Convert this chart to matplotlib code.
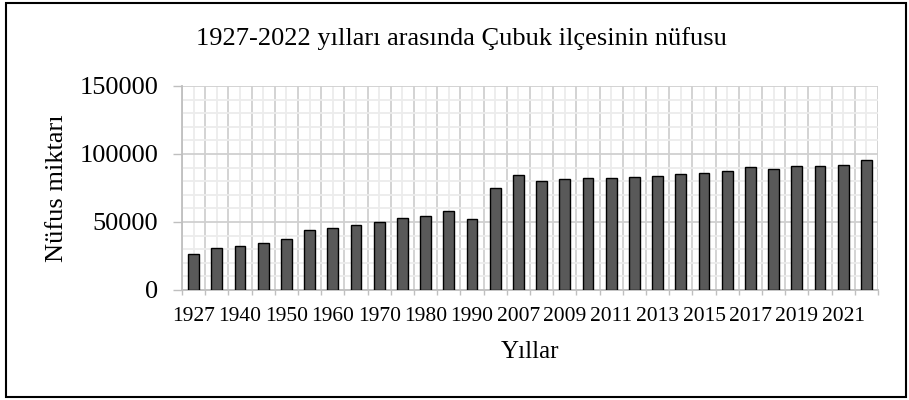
import numpy as np
import matplotlib
matplotlib.use("Agg")
import matplotlib.pyplot as plt
from matplotlib.patches import Rectangle
from matplotlib.ticker import MultipleLocator, FixedLocator

plt.rcParams['font.family'] = ['Liberation Serif', 'DejaVu Serif']

# census / address-based population of Cubuk
years = ['1927', '1935', '1940', '1945', '1950', '1955', '1960', '1965',
         '1970', '1975', '1980', '1985', '1990', '2000', '2007', '2008',
         '2009', '2010', '2011', '2012', '2013', '2014', '2015', '2016',
         '2017', '2018', '2019', '2020', '2021', '2022']
population = [26200, 31100, 32600, 34600, 37700, 44100, 45300, 47800,
              49800, 53200, 54600, 58100, 52200, 75200, 84300, 80400,
              81600, 82100, 82400, 82800, 84100, 85000, 86300, 87800,
              90200, 89200, 90900, 91400, 91900, 95600]

title = '1927-2022 yılları arasında Çubuk ilçesinin nüfusu'
x_title = 'Yıllar'
y_title = 'Nüfus miktarı'

fig = plt.figure(figsize=(9.09, 4.0), dpi=100)
ax = fig.add_axes([182 / 909, 1 - 290 / 400, 696 / 909, 204 / 400])

x = np.arange(len(years))
ax.bar(x, population, width=0.47, color='#595959', edgecolor='black',
       linewidth=1.0, zorder=3)

ax.set_xlim(-0.5, len(years) - 0.5)
ax.set_ylim(0, 150000)

# y axis: major every 50000, minor every 10000
ax.yaxis.set_major_locator(MultipleLocator(50000))
ax.yaxis.set_minor_locator(MultipleLocator(10000))
ax.tick_params(axis='y', which='major', labelsize=19, length=6.5, width=1,
               color='#bfbfbf', pad=10.5)
ax.tick_params(axis='y', which='minor', length=0)

# x axis: ticks at category borders, labels at every other bar
ax.xaxis.set_major_locator(FixedLocator(np.arange(-0.5, len(years), 1.0)))
ax.xaxis.set_minor_locator(FixedLocator(x))
ax.set_xticklabels([])
ax.set_xticks(x, [y if i % 2 == 0 else '' for i, y in enumerate(years)],
              minor=True)
ax.tick_params(axis='x', which='major', length=3.6, width=1, color='#bfbfbf')
ax.tick_params(axis='x', which='minor', length=0, labelsize=15.5, pad=12.5)

ax.grid(which='major', color='#d0d0d0', linewidth=1.3, zorder=0)
ax.grid(which='minor', color='#ececec', linewidth=1.3, zorder=0)
ax.set_axisbelow(True)

for s in ['top', 'right']:
    ax.spines[s].set_visible(False)
for s in ['left', 'bottom']:
    ax.spines[s].set_color('#bfbfbf')
    ax.spines[s].set_linewidth(1.3)

fig.text(461 / 909, 1 - 39 / 400, title, ha='center', va='center', fontsize=19)
fig.text(530 / 909, 1 - 352 / 400, x_title, ha='center', va='center',
         fontsize=18)
fig.text(57 / 909, 1 - 188 / 400, y_title, ha='center', va='center',
         fontsize=19, rotation=90)

# outer frame
fig.patches.append(Rectangle((6 / 909, 3 / 400), 900 / 909, 394 / 400,
                             transform=fig.transFigure, fill=False,
                             edgecolor='black', linewidth=1.5))

fig.savefig('out.png', dpi=100)
